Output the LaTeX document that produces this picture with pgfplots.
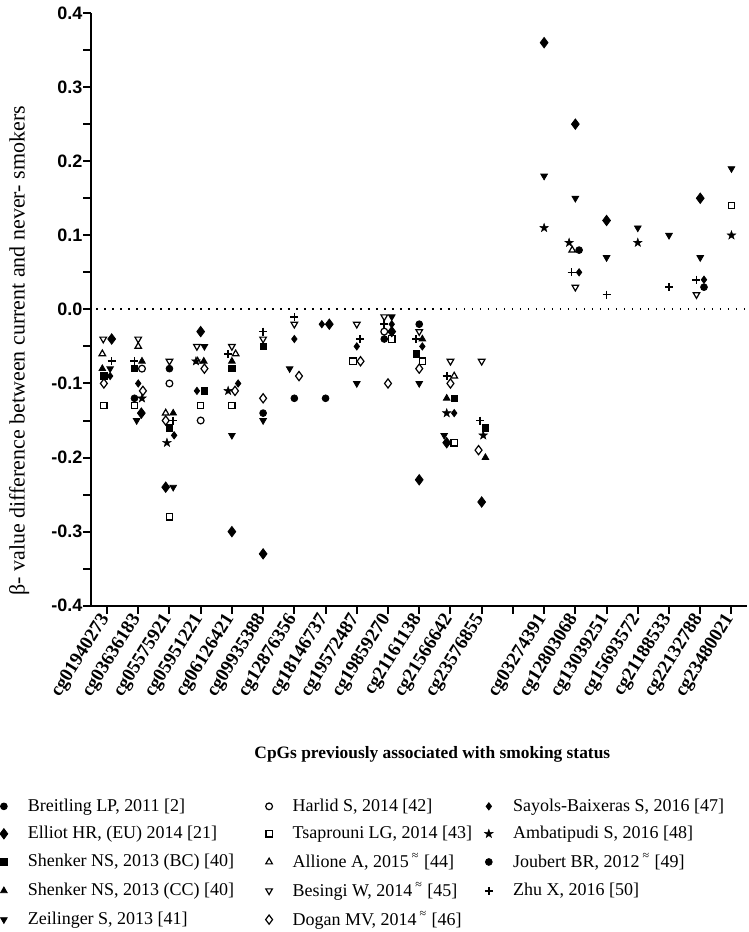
\documentclass[border=0pt]{standalone}
\usepackage{fontspec}
\setmainfont{Liberation Serif}
\setsansfont{Liberation Sans}
\usepackage{pgfplots}
\pgfplotsset{compat=1.18}
\usetikzlibrary{plotmarks}
\pgfdeclareplotmark{fstar}{%
  \pgfpathmoveto{\pgfpoint{0pt}{\pgfplotmarksize}}%
  \pgfpathlineto{\pgfpoint{-0.235\pgfplotmarksize}{0.324\pgfplotmarksize}}%
  \pgfpathlineto{\pgfpoint{-0.951\pgfplotmarksize}{0.309\pgfplotmarksize}}%
  \pgfpathlineto{\pgfpoint{-0.380\pgfplotmarksize}{-0.124\pgfplotmarksize}}%
  \pgfpathlineto{\pgfpoint{-0.588\pgfplotmarksize}{-0.809\pgfplotmarksize}}%
  \pgfpathlineto{\pgfpoint{0pt}{-0.4\pgfplotmarksize}}%
  \pgfpathlineto{\pgfpoint{0.588\pgfplotmarksize}{-0.809\pgfplotmarksize}}%
  \pgfpathlineto{\pgfpoint{0.380\pgfplotmarksize}{-0.124\pgfplotmarksize}}%
  \pgfpathlineto{\pgfpoint{0.951\pgfplotmarksize}{0.309\pgfplotmarksize}}%
  \pgfpathlineto{\pgfpoint{0.235\pgfplotmarksize}{0.324\pgfplotmarksize}}%
  \pgfpathclose\pgfusepathqfillstroke}
\begin{document}
\begin{tikzpicture}
\begin{axis}[
  scale only axis, width=328pt, height=296.5pt,
  xmin=-0.5, xmax=20.5, ymin=-0.4, ymax=0.4,
  axis lines*=left,
  axis line style={line width=1.1pt},
  tick align=outside,
  major tick length=4pt, minor tick length=4pt,
  every tick/.style={black, line width=1pt},
  ytick={-0.4,-0.3,-0.2,-0.1,0,0.1,0.2,0.3,0.4},
  yticklabels={-0.4,-0.3,-0.2,-0.1,0.0,0.1,0.2,0.3,0.4},
  minor ytick={-0.35,-0.25,-0.15,-0.05,0.05,0.15,0.25,0.35},
  yticklabel style={font=\sffamily\bfseries\fontsize{9}{10}\selectfont, xshift=3pt},
  xtick={0,1,2,3,4,5,6,7,8,9,10,11,12,13,14,15,16,17,18,19,20},
  xticklabels={cg01940273,cg03636183,cg05575921,cg05951221,cg06126421,cg09935388,cg12876356,cg18146737,cg19572487,cg19859270,cg21161138,cg21566642,cg23576855,{},cg03274391,cg12803068,cg13039251,cg15693572,cg21188533,cg22132788,cg23480021},
  xticklabel style={font=\bfseries\fontsize{9.5}{10}\selectfont, rotate=58, anchor=east, inner sep=1pt},
  xlabel={CpGs previously associated with smoking status},
  xlabel style={font=\bfseries\fontsize{8.7}{10}\selectfont, at={(axis description cs:0.52,-0.251)}, anchor=center},
  ylabel={β- value difference between current and never- smokers},
  ylabel style={font=\fontsize{11}{12}\selectfont, at={(axis description cs:-0.11,0.43)}, anchor=center},
  legend columns=3,
  legend style={draw=none, fill=none, at={(axis description cs:-0.14,-0.318)}, anchor=north west,
    font=\fontsize{9}{10}\selectfont, cells={anchor=west}, row sep=2pt, inner sep=0pt,
    /tikz/every odd column/.append style={column sep=8pt}},
  clip=false,
]
\addplot[dotted, line width=1pt, dash pattern=on 0.8pt off 3.2pt, forget plot] coordinates {(-0.35,0) (20.4,0)};

% row 1: Breitling, Harlid, Sayols
\addplot[only marks, mark=*, mark size=1.7pt, black] coordinates {(0.88,-0.12) (2,-0.08) (5,-0.14) (6,-0.12) (7,-0.12) (8.88,-0.04) (10,-0.02)};
\addlegendentry{\makebox[117pt][l]{Breitling LP, 2011 [2]}}
\addplot[only marks, mark=o, mark size=1.7pt, black, mark options={line width=0.6pt}] coordinates {(1.12,-0.08) (2,-0.10) (3,-0.15) (8.88,-0.03)};
\addlegendentry{\makebox[94pt][l]{Harlid S, 2014 [42]}}
\addplot[only marks, mark=diamond*, mark size=1.8pt, black] coordinates {(0.1,-0.09) (1,-0.10) (2.15,-0.17) (2.88,-0.11) (4.2,-0.10) (6,-0.04) (6.88,-0.02) (8,-0.05) (9.12,-0.02) (10.1,-0.05) (11.12,-0.14) (15.12,0.05) (19.12,0.04)};
\addlegendentry{Sayols-Baixeras S, 2016 [47]}

% row 2: Elliot, Tsaprouni, Ambatipudi
\addplot[only marks, mark=diamond*, mark size=2.6pt, black] coordinates {(0.15,-0.04) (1.1,-0.14) (1.88,-0.24) (3,-0.03) (4,-0.30) (5,-0.33) (7.12,-0.02) (9.12,-0.03) (10,-0.23) (10.88,-0.18) (12,-0.26) (14,0.36) (15,0.25) (16,0.12) (19,0.15)};
\addlegendentry{Elliot HR, (EU) 2014 [21]}
\addplot[only marks, mark=square, mark size=1.6pt, black, mark options={line width=0.6pt}] coordinates {(-0.1,-0.13) (0.88,-0.13) (2,-0.28) (3,-0.13) (4,-0.13) (7.88,-0.07) (9.12,-0.04) (10.1,-0.07) (11.12,-0.18) (20,0.14)};
\addlegendentry{Tsaprouni LG, 2014 [43]}
\addplot[only marks, mark=fstar, mark size=2.3pt, black, mark options={line width=0.2pt}] coordinates {(1.12,-0.12) (1.92,-0.18) (2.85,-0.07) (3.88,-0.11) (10.88,-0.14) (12.05,-0.17) (14,0.11) (14.8,0.09) (17,0.09) (20,0.10)};
\addlegendentry{Ambatipudi S, 2016 [48]}

% row 3: Shenker BC, Allione, Joubert
\addplot[only marks, mark=square*, mark size=1.6pt, black] coordinates {(-0.1,-0.09) (0.88,-0.08) (2,-0.16) (3.12,-0.11) (4,-0.08) (5,-0.05) (9.9,-0.06) (11.12,-0.12) (12.12,-0.16)};
\addlegendentry{Shenker NS, 2013 (BC) [40]}
\addplot[only marks, mark=triangle, mark size=1.9pt, black, mark options={line width=0.6pt}] coordinates {(-0.15,-0.06) (1,-0.05) (1.88,-0.14) (2.9,-0.07) (4.12,-0.06) (11.12,-0.09) (14.9,0.08)};
\addlegendentry{Allione A, 2015\,\textsuperscript{≈} [44]}
\addplot[only marks, mark=*, mark size=1.7pt, black] coordinates {(15.12,0.08) (19.12,0.03)};
\addlegendentry{Joubert BR, 2012\,\textsuperscript{≈} [49]}

% row 4: Shenker CC, Besingi, Zhu
\addplot[only marks, mark=triangle*, mark size=1.9pt, black] coordinates {(-0.15,-0.08) (1.12,-0.07) (2.12,-0.14) (3.1,-0.07) (4,-0.07) (10.1,-0.04) (10.88,-0.12) (12.12,-0.20)};
\addlegendentry{Shenker NS, 2013 (CC) [40]}
\addplot[only marks, mark=triangle, mark size=1.9pt, black, mark options={rotate=180, line width=0.6pt}] coordinates {(-0.12,-0.04) (1,-0.04) (2,-0.07) (2.88,-0.05) (4,-0.05) (5,-0.04) (6,-0.02) (8,-0.02) (8.88,-0.01) (10,-0.03) (11,-0.07) (12,-0.07) (15,0.03) (18.88,0.02)};
\addlegendentry{Besingi W, 2014\,\textsuperscript{≈} [45]}
\addplot[only marks, mark=+, mark size=2pt, black, mark options={line width=0.8pt}] coordinates {(0.15,-0.07) (0.88,-0.07) (2.12,-0.15) (3.88,-0.06) (5,-0.03) (6,-0.01) (8.1,-0.04) (8.88,-0.02) (9.9,-0.04) (10.88,-0.09) (11.95,-0.15) (14.88,0.05) (16,0.02) (18,0.03) (18.88,0.04)};
\addlegendentry{Zhu X, 2016 [50]}

% row 5: Zeilinger, Dogan
\addplot[only marks, mark=triangle*, mark size=1.9pt, black, mark options={rotate=180}] coordinates {(0.1,-0.08) (0.95,-0.15) (2.12,-0.24) (3.12,-0.05) (4,-0.17) (5,-0.15) (5.85,-0.08) (8,-0.10) (9.12,-0.01) (10,-0.10) (10.8,-0.17) (14,0.18) (15,0.15) (16,0.07) (17,0.11) (18,0.10) (19,0.07) (20,0.19)};
\addlegendentry{Zeilinger S, 2013 [41]}
\addplot[only marks, mark=diamond, mark size=2.3pt, black, mark options={line width=0.6pt}] coordinates {(-0.1,-0.10) (1.15,-0.11) (1.88,-0.15) (3.12,-0.08) (4.1,-0.11) (5,-0.12) (6.15,-0.09) (8.12,-0.07) (9,-0.10) (10,-0.08) (11,-0.10) (11.9,-0.19)};
\addlegendentry{Dogan MV, 2014\,\textsuperscript{≈} [46]}
\end{axis}
\end{tikzpicture}
\end{document}
